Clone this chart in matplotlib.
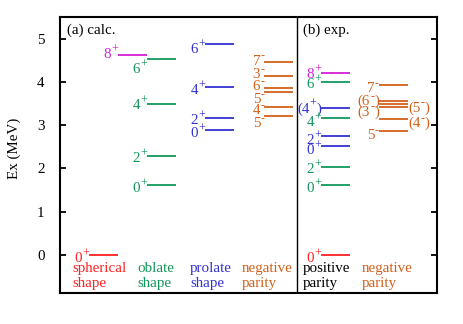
import matplotlib
matplotlib.use("Agg")
import matplotlib.pyplot as plt
from matplotlib.transforms import offset_copy

plt.rcParams["font.family"] = ["Liberation Serif", "DejaVu Serif"]

RED = "#ff2020"
GREEN = "#12975a"
BLUE = "#3232d2"
MAGENTA = "#d41ed4"
ORANGE = "#d2601a"

calc_sph_E = [0.0]
calc_sph_J = ["0+"]

calc_gsb8_E = [4.62]
calc_gsb8_J = ["8+"]

calc_obl_E = [4.53, 3.49, 2.29, 1.62]
calc_obl_J = ["6+", "4+", "2+", "0+"]
calc_obl_dy = [-0.21, 0.0, -0.03, -0.06]

calc_pro_E = [4.87, 3.88, 3.16, 2.89]
calc_pro_J = ["6+", "4+", "2+", "0+"]
calc_pro_dy = [-0.08, -0.05, -0.02, -0.05]

calc_neg_E = [4.46, 4.13, 3.86, 3.76, 3.42, 3.21]
calc_neg_J = ["7-", "3-", "6-", "5-", "4-", "5-"]
calc_neg_dy = [0.05, 0.07, 0.06, -0.14, -0.05, -0.14]

exp_pos_E = [4.20, 4.00, 3.39, 3.16, 2.75, 2.52, 2.03, 1.62, 0.0]
exp_pos_J = ["8+", "6+", "(4+)", "4+", "2+", "0+", "2+", "0+", "0+"]
exp_pos_col = [MAGENTA, GREEN, BLUE, GREEN, BLUE, BLUE, GREEN, GREEN, RED]
exp_pos_dy = [0.0, -0.02, 0.02, -0.07, -0.07, -0.07, -0.03, -0.06, -0.05]

exp_neg_E = [3.93, 3.56, 3.49, 3.42, 3.14, 2.86]
exp_neg_J = ["7-", "(6-)", "(5-)", "(3-)", "(4-)", "5-"]
exp_neg_dy = [-0.05, 0.02, -0.07, -0.09, -0.07, -0.07]
exp_neg_side = ["l", "l", "r", "l", "r", "l"]

group_labels = ["spherical\nshape", "oblate\nshape", "prolate\nshape",
                "negative\nparity", "positive\nparity", "negative\nparity"]
group_colors = [RED, GREEN, BLUE, ORANGE, "black", ORANGE]
group_x = [0.22, 1.33, 2.24, 3.14, 4.19, 5.21]

FS = 10.8
W = 0.5

fig = plt.figure(figsize=(4.63, 3.24), dpi=100)
ax = fig.add_axes([60 / 463, 1 - 293 / 324, 377 / 463, 276 / 324])
renderer = fig.canvas.get_renderer()


def split(j):
    # "(4+)" -> [("(4", 0), ("+", 1), (")", 0)]
    if j.startswith("("):
        return [("(" + j[1], 0), (j[2], 1), (")", 0)]
    return [(j[0], 0), (j[1], 1)]


def spin_label(x, y, j, color, side):
    parts = split(j)
    texts = []
    for s, sup in parts:
        t = ax.text(x, y, s, color=color, fontsize=FS * (0.8 if sup else 1),
                    ha="left", va="baseline")
        texts.append(t)
    widths = [t.get_window_extent(renderer).width for t in texts]
    pos = -sum(widths) if side == "l" else 0
    for t, w, (s, sup) in zip(texts, widths, parts):
        t.set_transform(offset_copy(ax.transData, fig=fig, x=pos,
                                    y=(5.5 if sup else 0), units="dots"))
        pos += w


def level(x0, e, j, color, dy=-0.05, side="l"):
    ax.plot([x0, x0 + W], [e, e], color=color, lw=1.3, solid_capstyle="butt")
    xl = x0 if side == "l" else x0 + W
    spin_label(xl, e + dy - 0.115, j, color, side)


for e, j in zip(calc_sph_E, calc_sph_J):
    level(0.5, e, j, RED)
for e, j in zip(calc_gsb8_E, calc_gsb8_J):
    level(1.0, e, j, MAGENTA, 0.05)
for e, j, d in zip(calc_obl_E, calc_obl_J, calc_obl_dy):
    level(1.5, e, j, GREEN, d)
for e, j, d in zip(calc_pro_E, calc_pro_J, calc_pro_dy):
    level(2.5, e, j, BLUE, d)
for e, j, d in zip(calc_neg_E, calc_neg_J, calc_neg_dy):
    level(3.52, e, j, ORANGE, d)
for e, j, c, d in zip(exp_pos_E, exp_pos_J, exp_pos_col, exp_pos_dy):
    level(4.5, e, j, c, d)
for e, j, d, s in zip(exp_neg_E, exp_neg_J, exp_neg_dy, exp_neg_side):
    level(5.5, e, j, ORANGE, d, s)

ax.axvline(4.086, color="black", lw=1.0)

for x, t, c in zip(group_x, group_labels, group_colors):
    ax.text(x, -0.17, t, color=c, fontsize=FS, ha="left", va="top",
            linespacing=1.2)

ax.text(0.12, 5.12, "(a) calc.", fontsize=FS, ha="left", va="baseline")
ax.text(4.19, 5.12, "(b) exp.", fontsize=FS, ha="left", va="baseline")

ax.set_xlim(0, 6.5)
ax.set_ylim(-0.878, 5.5)
ax.set_xticks([])
ax.set_yticks([0, 1, 2, 3, 4, 5])
ax.tick_params(axis="y", direction="in", length=4.5, width=1.3,
               right=True, labelsize=FS, pad=11)
for s in ax.spines.values():
    s.set_linewidth(1.5)

fig.text(14 / 463, 1 - 148 / 324, "Ex (MeV)", rotation=90, fontsize=FS,
         ha="center", va="center")

fig.savefig("out.png", dpi=100)
